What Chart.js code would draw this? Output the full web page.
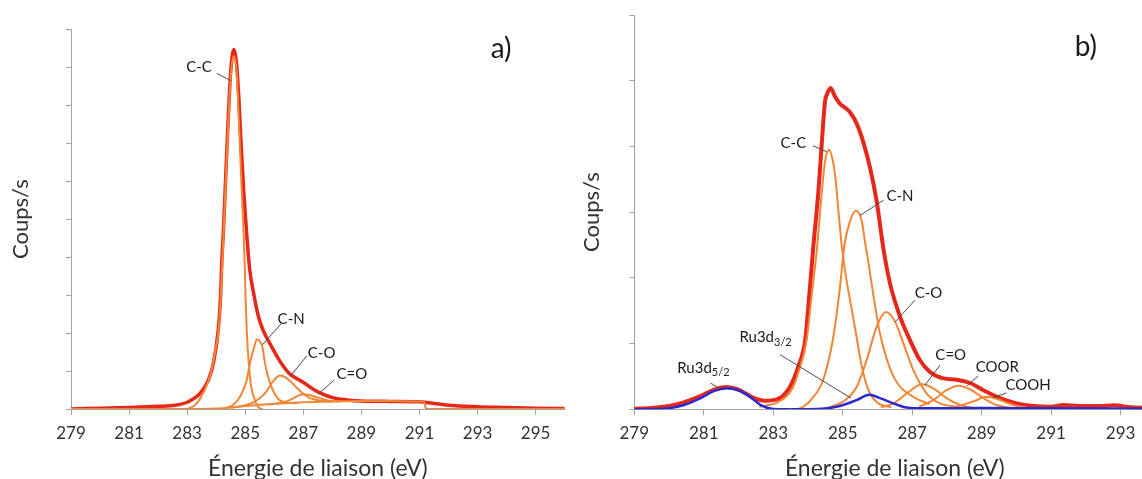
<!DOCTYPE html>
<html>
<head>
<meta charset="utf-8">
<script src="https://cdn.jsdelivr.net/npm/chart.js@4.4.1/dist/chart.umd.min.js"></script>
<style>
  body { margin: 0; background: #fff; overflow: hidden; width: 1142px; height: 479px; position: relative; }
  canvas { position: absolute; top: 0; }
  #chartA { left: 0; }
  #chartB { left: 570px; }
</style>
</head>
<body>
<canvas id="chartA" width="570" height="479"></canvas>
<canvas id="chartB" width="600" height="479"></canvas>
<script>
// ---- panel a) ----
const aTicks = [279, 281, 283, 285, 287, 289, 291, 293, 295];

const aEnvX = [279, 280, 281, 282, 282.58, 283.04, 283.44, 283.73, 283.9, 284.07, 284.15, 284.19, 284.25, 284.38, 284.5, 284.61, 284.7, 284.8, 284.85, 284.95, 285.04, 285.15, 285.3, 285.45, 285.6, 285.85, 286.2, 286.5, 287.0, 287.5, 288.0, 288.5, 289.0, 290.0, 291.0, 291.4, 292.0, 293.0, 294.0, 295.0, 296.0];
const aEnvY = [0, 0.02, 0.04, 0.07, 0.1, 0.19, 0.41, 0.76, 1.2, 2.08, 2.96, 3.84, 4.71, 7.08, 8.9, 9.47, 9.1, 7.9, 7.08, 5.7, 4.71, 3.7, 3.0, 2.45, 2.1, 1.72, 1.25, 0.95, 0.7, 0.45, 0.3, 0.24, 0.21, 0.2, 0.19, 0.16, 0.1, 0.06, 0.04, 0.02, 0.01];

const aCcX = [283.0, 283.3, 283.6, 283.8, 283.96, 284.07, 284.15, 284.25, 284.38, 284.5, 284.6, 284.7, 284.78, 284.87, 284.94, 284.98, 285.01, 285.05, 285.12, 285.2, 285.3, 285.45, 285.6];
const aCcY = [0, 0.12, 0.5, 0.9, 1.5, 2.0, 2.85, 4.55, 6.9, 8.75, 9.3, 8.9, 7.6, 5.9, 4.71, 3.84, 2.96, 2.08, 1.2, 0.6, 0.3, 0.05, 0];

const aCnX = [284.3, 284.6, 284.82, 285.05, 285.16, 285.31, 285.4, 285.5, 285.59, 285.68, 285.82, 286.08, 286.4, 286.8];
const aCnY = [0.02, 0.12, 0.32, 0.76, 1.2, 1.64, 1.83, 1.78, 1.64, 1.2, 0.76, 0.32, 0.17, 0.15];

const aCoX = [284.5, 285.0, 285.3, 285.68, 285.95, 286.2, 286.45, 286.75, 287.0, 287.25, 287.6, 288.0];
const aCoY = [0.03, 0.1, 0.18, 0.41, 0.72, 0.88, 0.8, 0.58, 0.4, 0.28, 0.22, 0.2];

const aCdoX = [285.8, 286.3, 286.6, 286.85, 287.0, 287.2, 287.5, 287.9, 288.3];
const aCdoY = [0.12, 0.17, 0.26, 0.36, 0.39, 0.37, 0.3, 0.22, 0.2];

const aBgX = [279, 283.5, 284.0, 284.5, 285.0, 285.5, 286.0, 286.5, 287.0, 288.0, 289.0, 290.0, 291.0, 291.15, 291.22, 291.3, 296];
const aBgY = [0, 0, 0.01, 0.04, 0.08, 0.11, 0.14, 0.16, 0.18, 0.2, 0.21, 0.21, 0.2, 0.2, 0.02, 0, 0];

// ---- panel b) ----
const bTicks = [279, 281, 283, 285, 287, 289, 291, 293];

const bEnvX = [279, 279.5, 280, 280.4, 280.9, 281.3, 281.65, 282.0, 282.45, 282.75, 283.1, 283.48, 283.72, 283.92, 284.01, 284.15, 284.3, 284.4, 284.49, 284.56, 284.65, 284.78, 284.92, 285.07, 285.21, 285.4, 285.59, 285.79, 285.98, 286.17, 286.36, 286.65, 286.94, 287.22, 287.51, 287.9, 288.28, 288.67, 289.05, 289.53, 290.01, 290.5, 291.0, 291.35, 291.8, 292.4, 292.8, 293.3, 294];
const bEnvY = [0.01, 0.02, 0.05, 0.1, 0.2, 0.3, 0.34, 0.3, 0.17, 0.13, 0.15, 0.34, 0.65, 1.05, 1.56, 2.45, 3.31, 4.07, 4.68, 4.81, 4.89, 4.76, 4.65, 4.59, 4.52, 4.35, 4.07, 3.67, 3.16, 2.45, 1.92, 1.41, 1.05, 0.75, 0.57, 0.47, 0.45, 0.4, 0.29, 0.17, 0.09, 0.05, 0.04, 0.065, 0.05, 0.05, 0.06, 0.03, 0.02];

const bCcX = [282.6, 283.1, 283.5, 283.7, 283.96, 284.1, 284.25, 284.4, 284.49, 284.61, 284.7, 284.78, 284.87, 284.97, 285.1, 285.25, 285.4, 285.55, 285.75, 286.0, 286.4];
const bCcY = [0.04, 0.1, 0.27, 0.52, 1.05, 1.7, 2.4, 3.31, 3.77, 3.95, 3.82, 3.57, 3.06, 2.5, 2.0, 1.55, 1.1, 0.65, 0.28, 0.1, 0.03];

const bCnX = [283.7, 283.87, 284.1, 284.44, 284.73, 284.92, 285.05, 285.21, 285.38, 285.55, 285.64, 285.72, 285.88, 286.07, 286.46, 287.03, 287.5];
const bCnY = [0, 0.04, 0.15, 0.45, 1.1, 1.85, 2.5, 2.86, 3.02, 2.86, 2.55, 2.3, 1.75, 1.16, 0.5, 0.19, 0.08];

const bCoX = [284.6, 285.02, 285.4, 285.69, 285.98, 286.25, 286.51, 286.75, 287.03, 287.42, 287.8, 288.3];
const bCoY = [0.03, 0.12, 0.34, 0.75, 1.26, 1.48, 1.33, 1.0, 0.6, 0.24, 0.09, 0.04];

const bCdoX = [286.1, 286.46, 286.84, 287.28, 287.61, 287.99, 288.38, 288.8];
const bCdoY = [0.03, 0.09, 0.24, 0.38, 0.32, 0.17, 0.065, 0.02];

const bCoorX = [287.2, 287.61, 287.99, 288.33, 288.71, 289.05, 289.43, 289.9];
const bCoorY = [0.04, 0.14, 0.29, 0.36, 0.29, 0.17, 0.065, 0.02];

const bCoohX = [288.28, 288.76, 289.15, 289.53, 289.91, 290.3];
const bCoohY = [0.04, 0.12, 0.19, 0.14, 0.065, 0.02];

const bRu52X = [279, 279.5, 280.0, 280.43, 280.91, 281.3, 281.68, 282.0, 282.25, 282.45, 282.64, 282.95, 283.5];
const bRu52Y = [0, 0.005, 0.015, 0.065, 0.17, 0.28, 0.32, 0.29, 0.22, 0.14, 0.065, 0.01, 0];

const bRu32X = [283.5, 284.4, 284.92, 285.4, 285.77, 286.07, 286.46, 286.8, 287.2, 289, 291, 294];
const bRu32Y = [0, 0.01, 0.05, 0.14, 0.22, 0.17, 0.09, 0.03, 0.015, 0.02, 0.015, 0.01];

// peak labels: text, centre [eV, counts], leader [eV1, c1, eV2, c2]
const aNotes = [
  { text: 'C-C', at: [283.41, 9.01], line: [284.02, 8.84, 284.5, 8.65] },
  { text: 'C-N', at: [286.58, 2.37], line: [286.23, 2.24, 285.59, 1.69] },
  { text: 'C-O', at: [287.63, 1.47], line: [287.12, 1.40, 286.54, 0.85] },
  { text: 'C=O', at: [288.67, 0.92], line: [288.06, 0.76, 287.52, 0.40] },
  { text: 'a)', at: [293.81, 9.48], big: true }
];
const bNotes = [
  { text: 'C-C', at: [283.58, 4.05], line: [284.15, 4.01, 284.54, 3.92] },
  { text: 'C-N', at: [286.65, 3.25], line: [286.17, 3.18, 285.5, 2.95] },
  { text: 'C-O', at: [287.47, 1.77], line: [287.08, 1.66, 286.51, 1.33] },
  { text: 'C=O', at: [288.11, 0.82], line: [287.80, 0.67, 287.37, 0.37] },
  { text: 'COOR', at: [289.45, 0.64], line: [288.90, 0.51, 288.57, 0.35] },
  { text: 'COOH', at: [290.34, 0.37], line: [289.72, 0.25, 289.34, 0.18] },
  { text: 'Ru3d', sub: '3/2', at: [282.78, 1.10], line: [283.2, 0.83, 285.24, 0.17] },
  { text: 'Ru3d', sub: '5/2', at: [280.99, 0.63], line: [281.2, 0.40, 281.49, 0.30] },
  { text: 'b)', at: [292.0, 5.51], big: true }
];

const RED = '#e5281a';
const ORANGE = '#f08636';
const BLUE = '#2a2ad2';
const AXIS = '#a3a3a3';

Chart.defaults.font.family = 'Lato';
Chart.defaults.color = '#333';

function pts(xs, ys) {
  return xs.map((x, i) => ({ x: x, y: ys[i] }));
}

function line(xs, ys, color, width, order) {
  return {
    data: pts(xs, ys),
    borderColor: color,
    borderWidth: width,
    pointRadius: 0,
    cubicInterpolationMode: 'monotone',
    fill: false,
    order: order
  };
}

function notesPlugin(notes) {
  return {
    id: 'notes',
    afterDatasetsDraw(chart) {
      const ctx = chart.ctx;
      const x = chart.scales.x, y = chart.scales.y;
      ctx.save();
      notes.forEach(n => {
        if (n.line) {
          ctx.strokeStyle = '#4a4a4a';
          ctx.lineWidth = 1;
          ctx.beginPath();
          ctx.moveTo(x.getPixelForValue(n.line[0]), y.getPixelForValue(n.line[1]));
          ctx.lineTo(x.getPixelForValue(n.line[2]), y.getPixelForValue(n.line[3]));
          ctx.stroke();
        }
        const px = x.getPixelForValue(n.at[0]);
        const py = y.getPixelForValue(n.at[1]);
        ctx.fillStyle = '#1a1a1a';
        ctx.textBaseline = 'middle';
        ctx.font = (n.big ? 28 : 15) + 'px Lato';
        const w1 = ctx.measureText(n.text).width;
        let w2 = 0;
        if (n.sub) {
          ctx.font = '11px Lato';
          w2 = ctx.measureText(n.sub).width;
          ctx.font = '15px Lato';
        }
        const x0 = px - (w1 + w2) / 2;
        ctx.textAlign = 'left';
        ctx.fillText(n.text, x0, py);
        if (n.sub) {
          ctx.font = '11px Lato';
          ctx.fillText(n.sub, x0 + w1, py + 5);
        }
      });
      ctx.restore();
    }
  };
}

function axes(xMax, ticks, yMax, yWidth, xHeight, yTitlePad) {
  return {
    x: {
      type: 'linear', min: 279, max: xMax,
      afterBuildTicks: s => { s.ticks = ticks.map(v => ({ value: v })); },
      afterFit: s => { s.height = xHeight; },
      ticks: { font: { size: 17 }, padding: 8, maxRotation: 0, autoSkip: false, callback: v => String(v) },
      grid: { drawOnChartArea: false, drawTicks: true, tickLength: 6, color: AXIS },
      border: { color: AXIS },
      title: { display: true, text: 'Énergie de liaison (eV)', font: { size: 23, lineHeight: 1 }, padding: { top: 0, bottom: -1 } }
    },
    y: {
      min: 0, max: yMax,
      afterFit: s => { s.width = yWidth; },
      ticks: { display: false, stepSize: 1 },
      grid: { drawOnChartArea: false, drawTicks: true, tickLength: 5, color: AXIS },
      border: { color: AXIS },
      title: { display: true, text: 'Coups/s', font: { size: 22, lineHeight: 1 }, padding: { top: yTitlePad, bottom: 0 } }
    }
  };
}

const configA = {
  type: 'line',
  data: {
    datasets: [
      line(aEnvX, aEnvY, RED, 3.5, 2),
      line(aCcX, aCcY, ORANGE, 2, 1),
      line(aCnX, aCnY, ORANGE, 2, 1),
      line(aCoX, aCoY, ORANGE, 2, 1),
      line(aCdoX, aCdoY, ORANGE, 2, 1),
      line(aBgX, aBgY, ORANGE, 2, 1)
    ]
  },
  options: {
    responsive: false,
    animation: false,
    devicePixelRatio: 1,
    layout: { padding: { left: 0, right: 5.3, top: 29.3, bottom: 0 } },
    plugins: { legend: { display: false }, tooltip: { enabled: false } },
    scales: axes(296, aTicks, 10, 71, 70, 10)
  },
  plugins: [notesPlugin(aNotes)]
};

const configB = {
  type: 'line',
  data: {
    datasets: [
      line(bRu52X, bRu52Y, BLUE, 2.5, 0),
      line(bRu32X, bRu32Y, BLUE, 2.5, 0),
      line(bEnvX, bEnvY, RED, 4, 2),
      line(bCcX, bCcY, ORANGE, 2, 1),
      line(bCnX, bCnY, ORANGE, 2, 1),
      line(bCoX, bCoY, ORANGE, 2, 1),
      line(bCdoX, bCdoY, ORANGE, 2, 1),
      line(bCoorX, bCoorY, ORANGE, 2, 1),
      line(bCoohX, bCoohY, ORANGE, 2, 1)
    ]
  },
  options: {
    responsive: false,
    animation: false,
    devicePixelRatio: 1,
    layout: { padding: { left: 0, right: 14.7, top: 15, bottom: 0 } },
    plugins: { legend: { display: false }, tooltip: { enabled: false } },
    scales: axes(294, bTicks, 6, 64.3, 69.7, 11)
  },
  plugins: [notesPlugin(bNotes)]
};

new Chart(document.getElementById('chartA'), configA);
new Chart(document.getElementById('chartB'), configB);
</script>
</body>
</html>
